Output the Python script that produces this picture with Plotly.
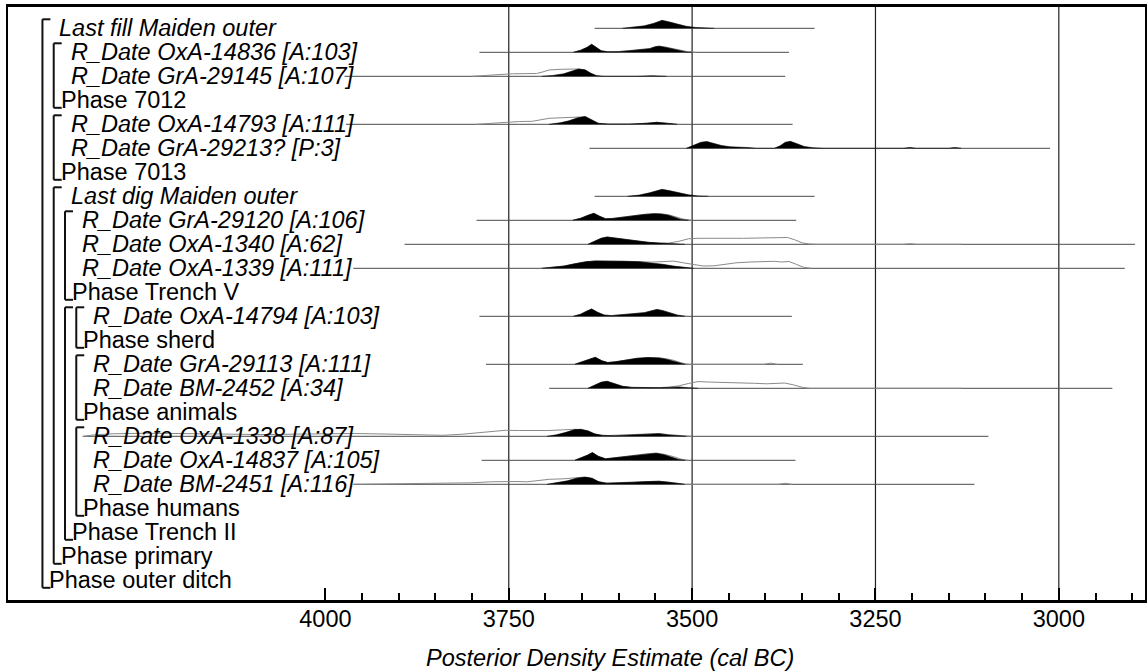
import plotly.graph_objects as go

# ---------------- data ----------------
LABELS = [
    "Last fill Maiden outer", "R_Date OxA-14836 [A:103]", "R_Date GrA-29145 [A:107]", "Phase 7012",
    "R_Date OxA-14793 [A:111]", "R_Date GrA-29213? [P:3]", "Phase 7013",
    "Last dig Maiden outer", "R_Date GrA-29120 [A:106]", "R_Date OxA-1340 [A:62]",
    "R_Date OxA-1339 [A:111]", "Phase Trench V",
    "R_Date OxA-14794 [A:103]", "Phase sherd",
    "R_Date GrA-29113 [A:111]", "R_Date BM-2452 [A:34]", "Phase animals",
    "R_Date OxA-1338 [A:87]", "R_Date OxA-14837 [A:105]", "R_Date BM-2451 [A:116]", "Phase humans",
    "Phase Trench II", "Phase primary", "Phase outer ditch",
]
DEPTH = [0, 1, 1, 1, 1, 1, 1, 1, 2, 2, 2, 2, 3, 3, 3, 3, 3, 3, 3, 3, 3, 2, 1, 0]

RANGE_START = [3633, 3790, 3974, None, 3972, 3640, None, 3633, 3794, 3892, 3962, None,
               3790, None, 3781, 3695, None, 4331, 3787, 3962, None, None, None, None]
RANGE_END = [3333, 3368, 3373, None, 3363, 3012, None, 3333, 3358, 2896, 2910, None,
             3364, None, 3349, 2927, None, 3096, 3359, 3115, None, None, None, None]

# bracket structure (rows are 1-based)
BRACKET_TOP = [1, 2, 5, 8, 9, 13, 13, 15, 18]
BRACKET_BOTTOM = [24, 4, 7, 23, 12, 22, 14, 17, 21]
BRACKET_LEVEL = [0, 1, 1, 1, 2, 2, 3, 3, 3]

# densities: (year cal BC, height in px)
post_last_fill = [(3595, 0), (3580, 1), (3565, 2.5), (3552, 5), (3541, 8), (3532, 6.5), (3520, 4),
                  (3508, 2), (3495, 0.8), (3480, 0.2), (3470, 0)]
post_oxa14836 = [(3662, 0), (3652, 2), (3643, 5), (3637, 8), (3631, 5), (3624, 1.5), (3615, 0.5),
                 (3600, 0.6), (3585, 1.5), (3570, 2.5), (3558, 3.5), (3550, 5.5), (3545, 6),
                 (3537, 5), (3528, 3.5), (3518, 1.5), (3508, 0.3), (3500, 0)]
out_oxa14836 = [(3662, 0), (3652, 2), (3643, 5), (3637, 8), (3631, 5), (3624, 1.5), (3615, 0.6),
                (3600, 0.8), (3585, 1.8), (3570, 2.8), (3558, 3.8), (3550, 5.7), (3545, 6.2),
                (3537, 5.3), (3528, 4), (3518, 2), (3505, 0.5), (3495, 0)]
post_gra29145 = [(3705, 0), (3690, 0.8), (3675, 2.5), (3665, 5), (3655, 7.3), (3646, 6.5),
                 (3638, 3), (3630, 0.6), (3620, 0), (3575, 0), (3555, 0.5), (3535, 0)]
out_gra29145 = [(3800, 0), (3785, 0.8), (3765, 1.8), (3745, 2.5), (3725, 2.7), (3712, 2.8),
                (3703, 4.5), (3695, 6.3), (3680, 7), (3665, 7.2), (3655, 7.3), (3648, 6.5),
                (3640, 3.5), (3632, 0.5), (3625, 0)]
post_oxa14793 = [(3695, 0), (3680, 1.5), (3668, 3.5), (3656, 6.5), (3646, 7.7), (3637, 4.5),
                 (3628, 1), (3615, 0.2), (3585, 0.2), (3562, 1), (3548, 2), (3535, 1), (3520, 0)]
out_oxa14793 = [(3795, 0), (3775, 1), (3755, 2), (3735, 2.8), (3718, 3), (3705, 4.5), (3695, 6),
                (3680, 6.5), (3665, 6.7), (3652, 7), (3645, 7.5), (3637, 4.5), (3628, 1),
                (3615, 0.3), (3580, 0.3), (3560, 1.2), (3548, 2), (3535, 1.2), (3520, 0)]
post_gra29213 = [(3508, 0), (3497, 3), (3488, 6), (3480, 6.8), (3470, 5), (3460, 2.8), (3448, 1.5),
                 (3435, 1.3), (3425, 0.8), (3412, 0), (3388, 0), (3380, 2.5), (3373, 6),
                 (3366, 7), (3357, 4.5), (3347, 1.8), (3335, 0.5), (3320, 0), (3212, 0),
                 (3203, 0.8), (3194, 0), (3150, 0), (3142, 0.8), (3133, 0)]
post_last_dig = [(3588, 0), (3572, 1.2), (3558, 3.5), (3548, 5.5), (3541, 7), (3530, 5.5),
                 (3518, 3.5), (3505, 1.5), (3492, 0.4), (3478, 0)]
post_gra29120 = [(3663, 0), (3652, 2), (3642, 5), (3634, 7), (3626, 4), (3618, 1.5), (3608, 1.8),
                 (3595, 3), (3580, 4.8), (3565, 5.8), (3552, 6.5), (3542, 6.2), (3532, 5),
                 (3523, 2.8), (3515, 0.8), (3505, 0)]
out_gra29120 = [(3663, 0), (3652, 2), (3642, 5), (3634, 7), (3626, 4), (3618, 1.5), (3608, 2),
                (3595, 3.2), (3580, 5), (3565, 6), (3552, 6.7), (3542, 6.5), (3532, 5.5),
                (3522, 3.5), (3512, 1.2), (3500, 0)]
post_oxa1340 = [(3642, 0), (3632, 3), (3624, 6), (3616, 7.3), (3606, 6.3), (3592, 4.5), (3575, 3),
                (3560, 2), (3545, 1.2), (3528, 0.6), (3510, 0)]
out_oxa1340 = [(3642, 0), (3632, 3), (3624, 6), (3616, 7.3), (3606, 6.3), (3592, 4.5), (3575, 3),
               (3560, 2), (3545, 1.3), (3532, 1.2), (3518, 3), (3505, 5.5), (3492, 6),
               (3470, 5.8), (3450, 6.3), (3430, 6), (3410, 6.3), (3395, 6.5), (3380, 7),
               (3370, 6.8), (3360, 4.5), (3350, 1.5), (3340, 0.3), (3330, 0), (3212, 0),
               (3203, 0.6), (3194, 0), (3150, 0), (3142, 0.6), (3133, 0)]
post_oxa1339 = [(3705, 0), (3690, 0.8), (3675, 2.2), (3660, 4.5), (3645, 6.5), (3632, 7.3),
                (3612, 7.3), (3592, 7), (3572, 6.5), (3555, 5.5), (3540, 4), (3525, 2.2),
                (3510, 0.8), (3498, 0)]
out_oxa1339 = [(3705, 0), (3690, 0.8), (3675, 2.2), (3660, 4.5), (3645, 6.5), (3632, 7.3),
               (3612, 7.3), (3592, 7), (3572, 6.7), (3555, 6.2), (3540, 6.8), (3525, 7.2),
               (3512, 5.5), (3498, 3.5), (3485, 2.3), (3470, 2.5), (3455, 4), (3440, 5.5),
               (3420, 6.3), (3400, 6.5), (3388, 7), (3378, 6.3), (3368, 6.8), (3358, 4),
               (3348, 1), (3338, 0)]
post_oxa14794 = [(3662, 0), (3652, 2), (3644, 5), (3637, 7.3), (3629, 4), (3620, 1.2), (3610, 0.6),
                 (3595, 1.2), (3580, 2.5), (3565, 3.5), (3555, 5), (3548, 6.7), (3540, 5.5),
                 (3530, 3), (3520, 1), (3510, 0)]
out_oxa14794 = [(3662, 0), (3652, 2), (3644, 5), (3637, 7.3), (3629, 4), (3620, 1.2), (3610, 0.8),
                (3595, 1.4), (3580, 2.7), (3565, 3.7), (3555, 5.2), (3548, 6.9), (3540, 5.8),
                (3530, 3.5), (3520, 1.3), (3508, 0)]
post_gra29113 = [(3660, 0), (3650, 2.5), (3642, 5), (3632, 7), (3623, 3.5), (3615, 1.8),
                 (3605, 2.5), (3590, 4.5), (3575, 6), (3560, 6.7), (3545, 6.3), (3535, 5),
                 (3526, 3), (3518, 1), (3510, 0)]
out_gra29113 = [(3660, 0), (3650, 2.5), (3642, 5), (3632, 7), (3623, 3.5), (3615, 1.8),
                (3605, 2.5), (3590, 4.5), (3575, 6), (3560, 6.7), (3545, 6.5), (3535, 5.5),
                (3525, 4), (3515, 1.5), (3505, 0), (3402, 0), (3393, 1.2), (3384, 0)]
post_bm2452 = [(3642, 0), (3632, 3), (3624, 6), (3616, 7), (3606, 4.5), (3595, 2), (3582, 0.9),
               (3565, 0.5), (3545, 0.6), (3530, 0.9), (3518, 1.3), (3505, 0.6), (3492, 0)]
out_bm2452 = [(3642, 0), (3632, 3), (3624, 6), (3616, 7), (3606, 4.5), (3595, 2), (3582, 0.9),
              (3565, 0.5), (3545, 0.7), (3532, 1.2), (3518, 2.5), (3505, 4.8), (3492, 6.7),
              (3475, 6.2), (3455, 6), (3435, 5.7), (3415, 5), (3398, 4.5), (3385, 5),
              (3374, 5.3), (3362, 3.5), (3350, 1), (3340, 0), (3212, 0), (3203, 0.6),
              (3194, 0), (3150, 0), (3142, 0.6), (3133, 0)]
post_oxa1338 = [(3698, 0), (3685, 1.5), (3672, 4), (3660, 6.7), (3652, 7), (3642, 5.5), (3633, 2.5),
                (3622, 0.8), (3605, 0.5), (3590, 1), (3572, 2), (3558, 2.7), (3545, 2.6),
                (3532, 1.3), (3518, 0.3), (3508, 0)]
out_oxa1338 = [(4330, 0), (4315, 1.5), (4290, 2.5), (4250, 3), (4200, 2.8), (4160, 2.3),
               (4120, 1.8), (4080, 1.7), (4040, 2.2), (4000, 2.7), (3960, 2.8), (3920, 2.3),
               (3880, 1.5), (3840, 1), (3815, 2), (3795, 3.5), (3775, 4.5), (3755, 6),
               (3735, 5.8), (3715, 5.5), (3695, 5.8), (3675, 6.5), (3660, 7), (3650, 6.5),
               (3640, 4), (3630, 1.5), (3615, 0.8), (3595, 1.3), (3575, 2.2), (3558, 2.9),
               (3545, 2.8), (3530, 1.5), (3515, 0.4), (3500, 0)]
post_oxa14837 = [(3660, 0), (3650, 2.5), (3643, 5), (3636, 7.7), (3628, 4), (3618, 1.5),
                 (3605, 2.5), (3590, 4), (3575, 5.5), (3560, 6.5), (3549, 7), (3538, 5.5),
                 (3528, 3), (3518, 0.8), (3510, 0)]
out_oxa14837 = [(3660, 0), (3650, 2.5), (3643, 5), (3636, 7.7), (3628, 4), (3618, 1.5),
                (3605, 2.7), (3590, 4.2), (3575, 5.7), (3560, 6.7), (3549, 7.2), (3538, 6),
                (3526, 3.8), (3515, 1.2), (3505, 0)]
post_bm2451 = [(3698, 0), (3684, 1.5), (3670, 3.5), (3658, 6), (3646, 7.3), (3636, 6), (3627, 2.5),
               (3616, 1), (3600, 1.2), (3580, 2), (3560, 2.7), (3545, 3), (3532, 2), (3520, 0.5),
               (3510, 0)]
out_bm2451 = [(3962, 0), (3900, 0.3), (3840, 0.6), (3800, 1.5), (3775, 2.5), (3755, 3),
              (3740, 2.8), (3725, 2.5), (3710, 3.5), (3695, 5), (3675, 5.5), (3660, 6.3),
              (3650, 7), (3640, 6.5), (3630, 3), (3618, 1.3), (3600, 1.4), (3580, 2.2),
              (3560, 2.8), (3545, 3.1), (3532, 2.2), (3520, 0.6), (3510, 0), (3382, 0),
              (3373, 1), (3364, 0)]

POSTERIORS = [post_last_fill, post_oxa14836, post_gra29145, None, post_oxa14793, post_gra29213, None,
              post_last_dig, post_gra29120, post_oxa1340, post_oxa1339, None,
              post_oxa14794, None, post_gra29113, post_bm2452, None,
              post_oxa1338, post_oxa14837, post_bm2451, None, None, None, None]
OUTLINES = [None, out_oxa14836, out_gra29145, None, out_oxa14793, None, None,
            None, out_gra29120, out_oxa1340, out_oxa1339, None,
            out_oxa14794, None, out_gra29113, out_bm2452, None,
            out_oxa1338, out_oxa14837, out_bm2451, None, None, None, None]

MAJOR_TICKS = [4000, 3750, 3500, 3250, 3000]
MINOR_TICKS = [3950, 3900, 3850, 3800, 3700, 3650, 3600, 3550, 3450, 3400, 3350, 3300,
               3200, 3150, 3100, 3050, 2950, 2900]
GRID_YEARS = [3750, 3500, 3250, 3000]
X_TITLE = "Posterior Density Estimate (cal BC)"

# ---------------- layout constants ----------------
W, H = 1148, 671
ML, MR, MT, MB = 8, 1, 7, 71
PW = W - ML - MR
PH = H - MT - MB
ROW_PX = 24.0
ROW1_PX = 28.3
Y_TOP = 1 - (ROW1_PX - MT) / ROW_PX
Y_BOT = Y_TOP + PH / ROW_PX
X_LEFT, X_RIGHT = 4432.8, 2882.5
FONT = "Liberation Sans, Arial, sans-serif"
FS = 23.5


def px_to_paper(px):
    return (px - ML) / PW


fig = go.Figure()

for i, lab in enumerate(LABELS):
    row = i + 1
    if RANGE_START[i] is not None:
        fig.add_trace(go.Scatter(x=[RANGE_START[i], RANGE_END[i]], y=[row, row], mode="lines",
                                 line=dict(color="#4a4a4a", width=1), hoverinfo="skip"))
    if OUTLINES[i] is not None:
        fig.add_trace(go.Scatter(x=[p[0] for p in OUTLINES[i]],
                                 y=[row - p[1] / ROW_PX for p in OUTLINES[i]], mode="lines",
                                 line=dict(color="#8a8a8a", width=1), hoverinfo="skip"))
    if POSTERIORS[i] is not None:
        fig.add_trace(go.Scatter(x=[p[0] for p in POSTERIORS[i]],
                                 y=[row - p[1] / ROW_PX for p in POSTERIORS[i]], mode="lines",
                                 fill="toself", fillcolor="black",
                                 line=dict(color="black", width=0.6), hoverinfo="skip"))

annotations = []
for i, lab in enumerate(LABELS):
    row = i + 1
    is_phase = lab.startswith("Phase")
    px = 42.5 + 11.3 * DEPTH[i] + (6.0 if is_phase else 16.0)
    txt = lab if is_phase else "<i>" + lab + "</i>"
    annotations.append(dict(x=px_to_paper(px), xref="paper", y=row, yref="y", text=txt,
                            xanchor="left", yanchor="middle", showarrow=False,
                            font=dict(family=FONT, size=FS, color="black"), borderpad=0))

annotations.append(dict(x=px_to_paper(425), xref="paper", y=-(658 - (MT + PH)) / PH, yref="paper",
                        text="<i>" + X_TITLE + "</i>", xanchor="left", yanchor="middle",
                        showarrow=False, font=dict(family=FONT, size=FS, color="black")))

shapes = []
for yr in GRID_YEARS:
    shapes.append(dict(type="line", xref="x", yref="paper", x0=yr, x1=yr, y0=0, y1=1,
                       line=dict(color="#202020", width=1.2), layer="below"))

for t, b, lev in zip(BRACKET_TOP, BRACKET_BOTTOM, BRACKET_LEVEL):
    bx = 42.5 + 11.3 * lev
    x0 = px_to_paper(bx)
    x1 = px_to_paper(bx + 8)
    yt = t - 9 / ROW_PX
    yb = b + 7.5 / ROW_PX
    lc = dict(color="#111", width=2)
    shapes.append(dict(type="line", xref="paper", yref="y", x0=x0, x1=x0, y0=yt, y1=yb, line=lc))
    shapes.append(dict(type="line", xref="paper", yref="y", x0=x0, x1=x1, y0=yt, y1=yt, line=lc))
    shapes.append(dict(type="line", xref="paper", yref="y", x0=x0, x1=x1, y0=yb, y1=yb, line=lc))

fig.update_layout(
    width=W, height=H,
    margin=dict(l=ML, r=MR, t=MT, b=MB),
    paper_bgcolor="white", plot_bgcolor="white",
    showlegend=False,
    annotations=annotations,
    shapes=shapes,
    xaxis=dict(range=[X_LEFT, X_RIGHT], tickmode="array", tickvals=MAJOR_TICKS,
               ticktext=[str(v) for v in MAJOR_TICKS], ticks="inside", ticklen=12, tickwidth=2,
               tickcolor="black", showgrid=False, zeroline=False, showline=True,
               linecolor="black", linewidth=2.5, mirror=True, ticklabelstandoff=-4,
               tickfont=dict(family=FONT, size=FS, color="black"),
               minor=dict(tickmode="array", tickvals=MINOR_TICKS, ticks="inside", ticklen=7,
                          tickwidth=1.5, tickcolor="black", showgrid=False)),
    yaxis=dict(range=[Y_BOT, Y_TOP], showticklabels=False, ticks="", showgrid=False,
               zeroline=False, showline=True, linecolor="black", linewidth=2, mirror=True),
)

fig.write_html("out.html", config={"displayModeBar": False},
               post_script="document.body.style.margin='0';document.body.style.overflow='hidden';")
